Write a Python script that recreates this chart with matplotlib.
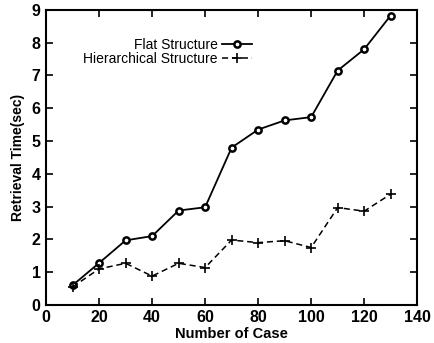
import matplotlib
matplotlib.use('Agg')
import matplotlib.pyplot as plt

cases = [10, 20, 30, 40, 50, 60, 70, 80, 90, 100, 110, 120, 130]
flat_time = [0.6, 1.28, 1.97, 2.1, 2.88, 2.98, 4.8, 5.35, 5.63, 5.73, 7.15, 7.8, 8.83]
hier_time = [0.55, 1.1, 1.27, 0.88, 1.27, 1.14, 1.98, 1.9, 1.96, 1.75, 2.97, 2.86, 3.38]

plt.rcParams['font.family'] = ['Liberation Sans', 'DejaVu Sans']

fig = plt.figure(figsize=(4.35, 3.43), dpi=100)
ax = fig.add_axes([0.106, 0.111, 0.853, 0.86])

ax.plot(cases, flat_time, color='black', lw=1.3, marker='o', ms=4.5,
        mfc='white', mec='black', mew=1.8, label='Flat Structure')
ax.plot(cases, hier_time, color='black', lw=1.1, ls=(0, (4, 2.5)), marker='+',
        ms=7, mew=1.2, label='Hierarchical Structure')

ax.set_xlim(0, 140)
ax.set_ylim(0, 9)
ax.set_xticks(range(0, 141, 20))
ax.set_yticks(range(0, 10))
ax.tick_params(direction='in', top=True, right=True, length=5, width=1.2,
               labelsize=11.5, pad=4)
for lbl in ax.get_xticklabels() + ax.get_yticklabels():
    lbl.set_fontweight('bold')
for s in ax.spines.values():
    s.set_linewidth(1.5)

ax.set_xlabel('Number of Case', fontsize=10.5, fontweight='bold', labelpad=1)
ax.set_ylabel('Retrieval Time(sec)', fontsize=10, fontweight='bold', labelpad=5)

ax.legend(loc='upper left', bbox_to_anchor=(0.085, 0.925), frameon=False,
          markerfirst=False, fontsize=10, handlelength=2.2, handletextpad=0.3,
          labelspacing=0.05, borderaxespad=0)

fig.savefig('out.png', dpi=100)
